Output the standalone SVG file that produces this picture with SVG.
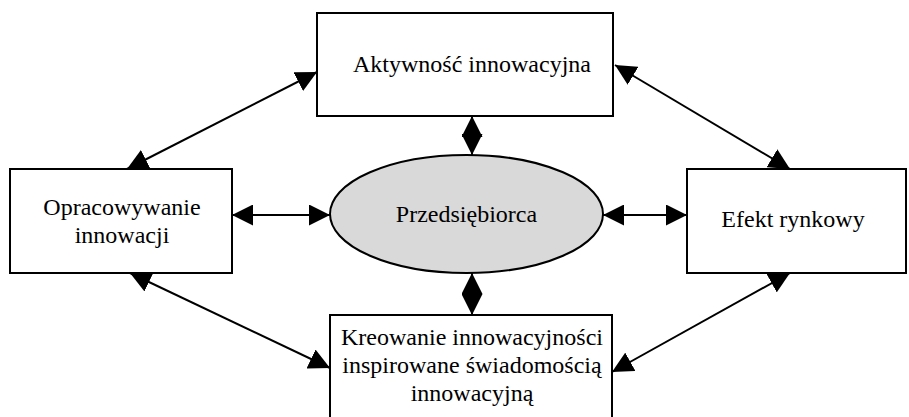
<svg xmlns="http://www.w3.org/2000/svg" width="909" height="417" viewBox="0 0 909 417">
<defs>
<marker id="ah" markerUnits="userSpaceOnUse" markerWidth="21" markerHeight="21" refX="21" refY="10.5" orient="auto-start-reverse" viewBox="0 0 21 21">
<path d="M0,0 L21,10.5 L0,21 z" fill="#000"/>
</marker>
<style>
.box{fill:#fff;stroke:#000;stroke-width:2}
.ell{fill:#d9d9d9;stroke:#000;stroke-width:2}
.t{font-family:"Liberation Serif","Times New Roman",serif;font-size:24px;fill:#000;text-anchor:middle}
.c{stroke:#000;stroke-width:2;fill:none;marker-start:url(#ah);marker-end:url(#ah)}
</style>
</defs>
<rect width="909" height="417" fill="#fff"/>
<g id="connectors">
<line class="c" x1="127" y1="169" x2="317" y2="72"/>
<line class="c" x1="615" y1="65" x2="790" y2="169"/>
<line class="c" x1="130" y1="273" x2="330" y2="368"/>
<line class="c" x1="612" y1="372" x2="790" y2="273"/>
<line class="c" x1="232" y1="215" x2="330" y2="215"/>
<line class="c" x1="603" y1="215" x2="687" y2="215"/>
<line class="c" x1="472" y1="116" x2="472" y2="155"/>
<line class="c" x1="472" y1="273" x2="472" y2="315"/>
</g>
<g id="aktywnosc">
<rect class="box" x="317" y="13" width="296" height="103"/>
<text class="t" x="472" y="72">Aktywność innowacyjna</text>
</g>
<g id="opracowywanie">
<rect class="box" x="10" y="169" width="222" height="104"/>
<text class="t" x="122" y="215">Opracowywanie</text>
<text class="t" x="122" y="243">innowacji</text>
</g>
<g id="przedsiebiorca">
<ellipse class="ell" cx="466.5" cy="214" rx="136.5" ry="59"/>
<text class="t" x="466.5" y="222">Przedsiębiorca</text>
</g>
<g id="efekt">
<rect class="box" x="687" y="169" width="219" height="104"/>
<text class="t" x="793" y="227">Efekt rynkowy</text>
</g>
<g id="kreowanie">
<rect class="box" x="330" y="315" width="282" height="106"/>
<text class="t" x="472" y="345">Kreowanie innowacyjności</text>
<text class="t" x="472" y="373">inspirowane świadomością</text>
<text class="t" x="472" y="401">innowacyjną</text>
</g>
</svg>
